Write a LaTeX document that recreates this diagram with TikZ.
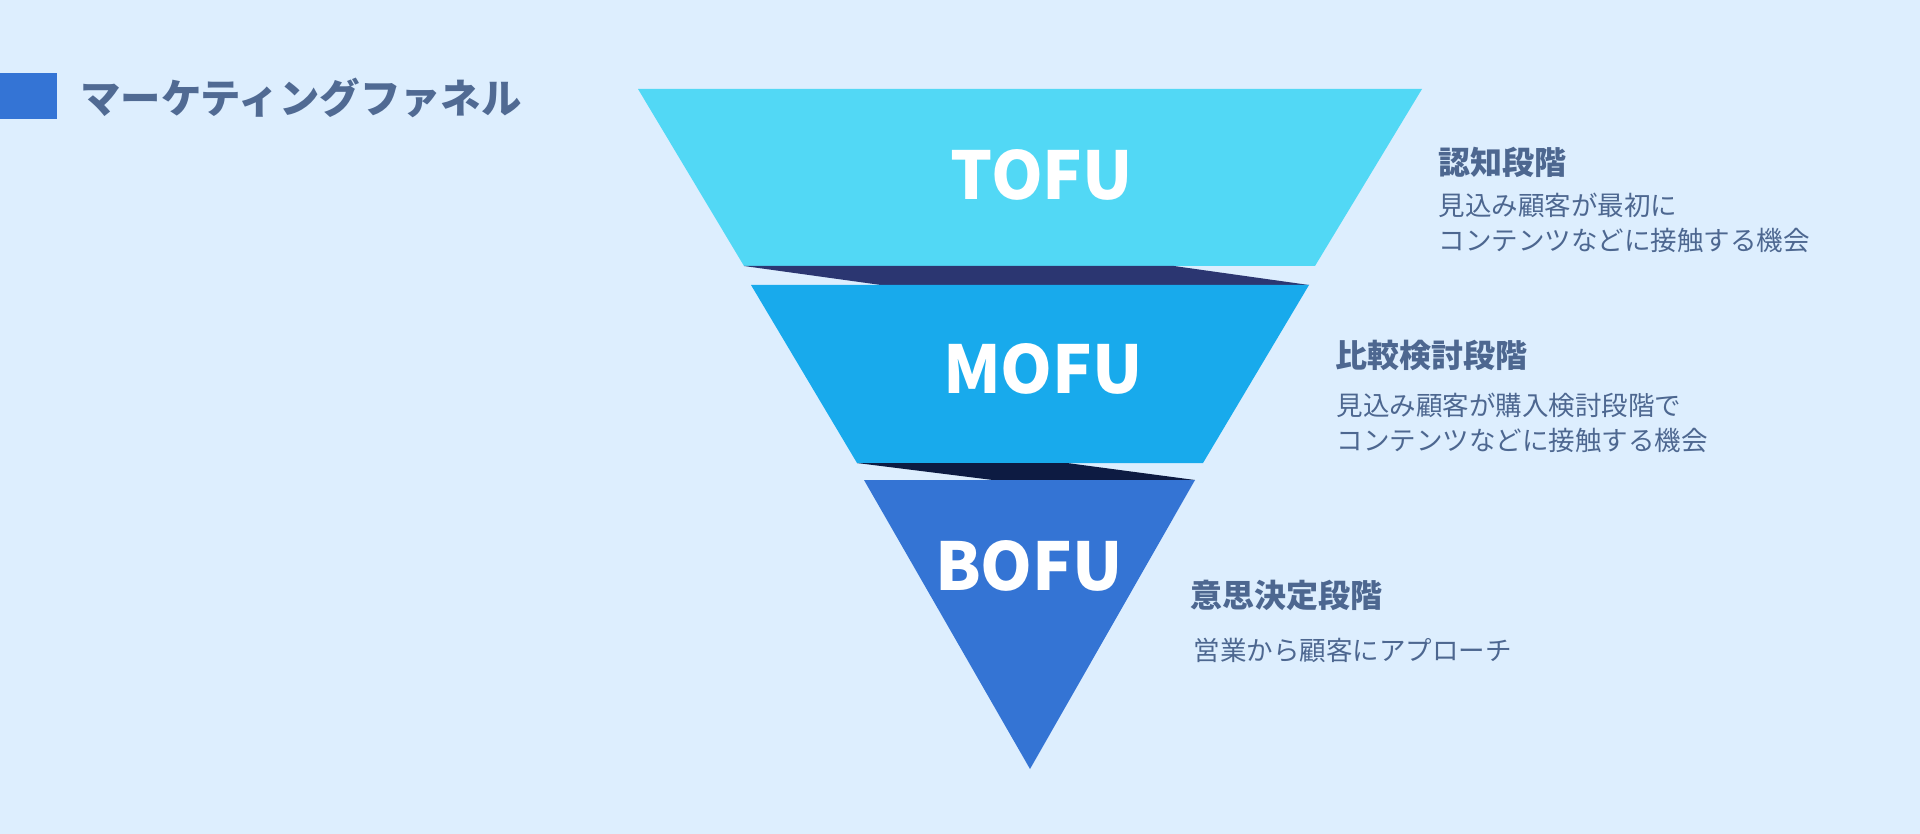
\documentclass[tikz,border=0pt]{standalone}
\usepackage{fontspec}
\setmainfont{Noto Sans CJK JP}
\tikzset{every picture/.style={line width=0.75pt}}
\tikzset{
  stagelabel/.style={inner sep=0pt, text=white, font=\fontsize{49.5}{49.5}\selectfont\bfseries},
  headtext/.style={anchor=west, inner sep=0pt, text={rgb,255:red,77;green,103;blue,144}, font=\fontsize{24}{24}\selectfont\bfseries},
  bodytext/.style={anchor=west, inner sep=0pt, align=left, text={rgb,255:red,77;green,103;blue,144}, font=\fontsize{19.9}{26.25}\selectfont},
}

\begin{document}
\begin{tikzpicture}[x=0.75pt,y=0.75pt,yscale=-1,xscale=1]
%set diagram left start at 0, and has height of 834
\fill [color={rgb, 255:red, 221; green, 238; blue, 254 }] (0,0) rectangle (1920,834) ;
\useasboundingbox (0,0) rectangle (1920,834) ;

%Shape: Rectangle [title mark]
\fill [color={rgb, 255:red, 52; green, 116; blue, 213 }] (0,73) rectangle (57,119) ;

%Shape: Trapezoid [TOFU]
\fill [color={rgb, 255:red, 82; green, 216; blue, 245 }] (638,89) -- (1422,89) -- (1315,266) -- (744,266) -- cycle ;
%Shape: Polygon [band 1]
\fill [color={rgb, 255:red, 43; green, 54; blue, 113 }] (744,266) -- (1174,266) -- (1309,285) -- (881,285) -- cycle ;
%Shape: Trapezoid [MOFU]
\fill [color={rgb, 255:red, 24; green, 170; blue, 236 }] (751,285) -- (1309,285) -- (1203,463) -- (857,463) -- cycle ;
%Shape: Polygon [band 2]
\fill [color={rgb, 255:red, 13; green, 27; blue, 66 }] (857,463) -- (1067,463) -- (1195,480) -- (993,480) -- cycle ;
%Shape: Triangle [BOFU]
\fill [color={rgb, 255:red, 52; green, 116; blue, 212 }] (864,480) -- (1195,480) -- (1030,769) -- cycle ;

% Text Node
\node (title) [anchor=west, inner sep=0pt, text={rgb,255:red,80;green,106;blue,147}, font=\fontsize{30.3}{30.3}\selectfont\bfseries] at (80,98) {マーケティングファネル};
% Text Node
\node (tofu) [stagelabel] at (1042,175) {TOFU};
% Text Node
\node (mofu) [stagelabel] at (1043,369) {MOFU};
% Text Node
\node (bofu) [stagelabel] at (1029,566) {BOFU};
% Text Node
\node (tofuhead) [headtext] at (1438,162) {認知段階};
% Text Node
\node (tofutext) [bodytext] at (1438,223) {見込み顧客が最初に\\コンテンツなどに接触する機会};
% Text Node
\node (mofuhead) [headtext] at (1335,355) {比較検討段階};
% Text Node
\node (mofutext) [bodytext] at (1336,423) {見込み顧客が購入検討段階で\\コンテンツなどに接触する機会};
% Text Node
\node (bofuhead) [headtext] at (1190,595) {意思決定段階};
% Text Node
\node (bofutext) [bodytext] at (1193,650) {営業から顧客にアプローチ};
\end{tikzpicture}
\end{document}
